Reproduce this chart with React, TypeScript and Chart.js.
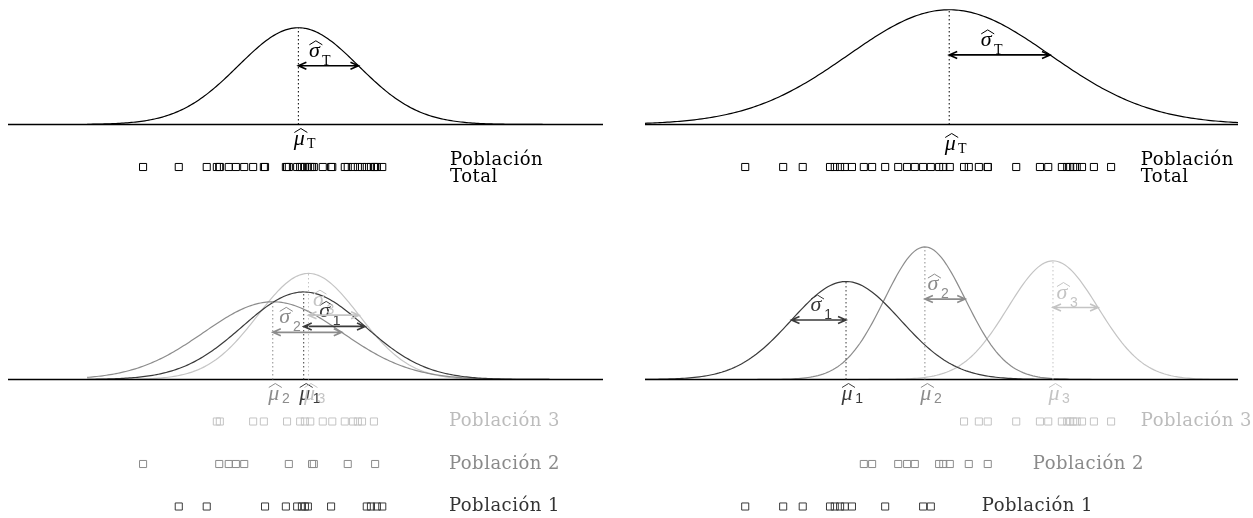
import React, { useEffect, useRef } from "react";
import { Chart, registerables } from "chart.js";

Chart.register(...registerables);

// ---------- Left example: three overlapping populations (measurement units 0–10) ----------
const leftPob1 = [2.87, 3.34, 4.32, 4.67, 4.86, 4.94, 4.99, 5.04, 5.43, 6.03, 6.1, 6.2, 6.29];
const leftPob2 = [2.27, 3.55, 3.71, 3.83, 3.97, 4.72, 5.11, 5.14, 5.71, 6.17];
const leftPob3 = [3.51, 3.56, 4.12, 4.3, 4.69, 4.91, 4.99, 5.08, 5.29, 5.45, 5.66, 5.8, 5.88, 5.95, 6.15];
const leftMu = [4.97, 4.45, 5.05];
const leftSigma = [1.03, 1.16, 0.85];
const leftMuTotal = 4.88;
const leftSigmaTotal = 1.01;

// ---------- Right example: three separated populations ----------
const rightPob1 = [1.69, 2.33, 2.66, 3.12, 3.2, 3.29, 3.37, 3.49, 4.05, 4.69, 4.82];
const rightPob2 = [3.69, 3.83, 4.27, 4.42, 4.55, 4.96, 5.03, 5.14, 5.46, 5.78];
const rightPob3 = [5.38, 5.63, 5.78, 6.26, 6.66, 6.8, 7.03, 7.12, 7.17, 7.22, 7.28, 7.37, 7.57, 7.86];
const rightMu = [3.39, 4.72, 6.88];
const rightSigma = [0.92, 0.68, 0.76];
const rightMuTotal = 5.13;
const rightSigmaTotal = 1.7;

const popNames = ["Población 1", "Población 2", "Población 3"];
const totalName = ["Población", "Total"];
const popSubs = ["1", "2", "3"];
const totalSub = "T";
const xDomain = [0, 10];
const leftCurveDomain = [1.33, 9.1];
const rightCurveDomain = [0, 10];

// ---------- styles ----------
const CURVE = ["#3a3a3a", "#8c8c8c", "#c4c4c4"];
const TEXT = ["#333333", "#8a8a8a", "#bcbcbc"];
const BLACK = "#000000";

type Curve = { mu: number; sigma: number; color: string; sub: string; dir: number; sigmaDx: number };
type Row = { values: number[]; row: number; color: string };
type Label = { lines: string[]; x: number; row: number; color: string };
type Panel = {
  left: number; top: number; width: number; height: number; padL: number; padR: number;
  axisY: number; k: number; rowY1: number; rowStep: number; muDy: number;
  curveDomain: number[]; curves: Curve[]; rows: Row[]; labels: Label[];
};

const panels: Panel[] = [
  {
    left: 0, top: 0, width: 620, height: 195, padL: 8, padR: 17,
    axisY: 124.5, k: 245, rowY1: 167, rowStep: 42.3, muDy: 20,
    curveDomain: leftCurveDomain,
    curves: [{ mu: leftMuTotal, sigma: leftSigmaTotal, color: BLACK, sub: totalSub, dir: 1, sigmaDx: 16 }],
    rows: [{ values: [...leftPob1, ...leftPob2, ...leftPob3], row: 1, color: BLACK }],
    labels: [{ lines: totalName, x: 7.43, row: 1, color: BLACK }],
  },
  {
    left: 620, top: 0, width: 633, height: 195, padL: 25, padR: 15,
    axisY: 124.5, k: 489, rowY1: 167, rowStep: 42.3, muDy: 25,
    curveDomain: rightCurveDomain,
    curves: [{ mu: rightMuTotal, sigma: rightSigmaTotal, color: BLACK, sub: totalSub, dir: 1, sigmaDx: 37 }],
    rows: [{ values: [...rightPob1, ...rightPob2, ...rightPob3], row: 1, color: BLACK }],
    labels: [{ lines: totalName, x: 8.36, row: 1, color: BLACK }],
  },
  {
    left: 0, top: 200, width: 620, height: 318, padL: 8, padR: 17,
    axisY: 379.5, k: 226, rowY1: 506.5, rowStep: 42.5, muDy: 20,
    curveDomain: leftCurveDomain,
    curves: [
      { mu: leftMu[0], sigma: leftSigma[0], color: CURVE[0], sub: popSubs[0], dir: 1, sigmaDx: 21 },
      { mu: leftMu[1], sigma: leftSigma[1], color: CURVE[1], sub: popSubs[1], dir: 1, sigmaDx: 12 },
      { mu: leftMu[2], sigma: leftSigma[2], color: CURVE[2], sub: popSubs[2], dir: 1, sigmaDx: 10 },
    ],
    rows: [
      { values: leftPob1, row: 1, color: CURVE[0] },
      { values: leftPob2, row: 2, color: CURVE[1] },
      { values: leftPob3, row: 3, color: CURVE[2] },
    ],
    labels: [
      { lines: [popNames[0]], x: 7.41, row: 1, color: TEXT[0] },
      { lines: [popNames[1]], x: 7.41, row: 2, color: TEXT[1] },
      { lines: [popNames[2]], x: 7.41, row: 3, color: TEXT[2] },
    ],
  },
  {
    left: 620, top: 200, width: 633, height: 318, padL: 25, padR: 15,
    axisY: 379.5, k: 226, rowY1: 506.5, rowStep: 42.5, muDy: 20,
    curveDomain: rightCurveDomain,
    curves: [
      { mu: rightMu[0], sigma: rightSigma[0], color: CURVE[0], sub: popSubs[0], dir: -1, sigmaDx: -30 },
      { mu: rightMu[1], sigma: rightSigma[1], color: CURVE[1], sub: popSubs[1], dir: 1, sigmaDx: 8 },
      { mu: rightMu[2], sigma: rightSigma[2], color: CURVE[2], sub: popSubs[2], dir: 1, sigmaDx: 9 },
    ],
    rows: [
      { values: rightPob1, row: 1, color: CURVE[0] },
      { values: rightPob2, row: 2, color: CURVE[1] },
      { values: rightPob3, row: 3, color: CURVE[2] },
    ],
    labels: [
      { lines: [popNames[0]], x: 5.68, row: 1, color: TEXT[0] },
      { lines: [popNames[1]], x: 6.54, row: 2, color: TEXT[1] },
      { lines: [popNames[2]], x: 8.36, row: 3, color: TEXT[2] },
    ],
  },
];

function gauss(x: number, mu: number, s: number) {
  return Math.exp(-0.5 * ((x - mu) / s) ** 2) / (s * Math.sqrt(2 * Math.PI));
}

function curvePoints(mu: number, s: number, dom: number[]) {
  const pts: { x: number; y: number }[] = [];
  const n = 240;
  for (let i = 0; i <= n; i++) {
    const x = dom[0] + ((dom[1] - dom[0]) * i) / n;
    pts.push({ x, y: gauss(x, mu, s) });
  }
  return pts;
}

function hatGlyph(ctx: CanvasRenderingContext2D, glyph: string, cx: number, baseY: number, color: string) {
  ctx.font = "italic 22px 'Liberation Serif'";
  ctx.fillStyle = color;
  ctx.textAlign = "center";
  ctx.textBaseline = "alphabetic";
  ctx.fillText(glyph, cx, baseY);
  ctx.strokeStyle = color;
  ctx.lineWidth = 1;
  ctx.setLineDash([]);
  ctx.beginPath();
  ctx.moveTo(cx - 5, baseY - 12);
  ctx.lineTo(cx + 1.5, baseY - 16);
  ctx.lineTo(cx + 8, baseY - 12);
  ctx.stroke();
}

function subText(ctx: CanvasRenderingContext2D, t: string, cx: number, baseY: number, color: string) {
  ctx.font = t === "T" ? "14px 'Liberation Serif'" : "14px 'Liberation Sans'";
  ctx.fillStyle = color;
  ctx.textAlign = "center";
  ctx.textBaseline = "alphabetic";
  ctx.fillText(t, cx, baseY);
}

function arrow(ctx: CanvasRenderingContext2D, x1: number, x2: number, y: number, color: string) {
  const h = 8, w = 3.5;
  const d = Math.sign(x2 - x1);
  ctx.strokeStyle = color;
  ctx.lineWidth = 1.6;
  ctx.setLineDash([]);
  ctx.beginPath();
  ctx.moveTo(x1, y);
  ctx.lineTo(x2, y);
  ctx.moveTo(x1 + d * h, y - w);
  ctx.lineTo(x1, y);
  ctx.lineTo(x1 + d * h, y + w);
  ctx.moveTo(x2 - d * h, y - w);
  ctx.lineTo(x2, y);
  ctx.lineTo(x2 - d * h, y + w);
  ctx.stroke();
}

function PanelChart({ panel }: { panel: Panel }) {
  const ref = useRef<HTMLCanvasElement>(null);
  useEffect(() => {
    const canvas = ref.current;
    if (!canvas) return;
    const H = panel.height;
    const base = panel.axisY - panel.top;
    const yMin = -(H - base) / panel.k;
    const yMax = base / panel.k;
    const r1 = panel.rowY1 - panel.top;
    const rMax = 1 + r1 / panel.rowStep;
    const rMin = rMax - H / panel.rowStep;

    const datasets: any[] = [];
    // baseline (drawn on top)
    datasets.push({
      data: [{ x: xDomain[0], y: 0 }, { x: xDomain[1], y: 0 }],
      yAxisID: "y",
      showLine: true,
      borderColor: BLACK,
      borderWidth: 1.3,
      pointRadius: 0,
      clip: false,
    });
    // sample rows
    panel.rows.forEach((r) => {
      datasets.push({
        data: r.values.map((v) => ({ x: v, y: r.row })),
        yAxisID: "rows",
        showLine: false,
        pointStyle: "rect",
        pointRadius: 5,
        pointBorderWidth: 1,
        pointBorderColor: r.color,
        pointBackgroundColor: "rgba(0,0,0,0)",
        borderColor: r.color,
        backgroundColor: "rgba(0,0,0,0)",
        clip: false,
      });
    });
    // density curves (first listed drawn on top)
    panel.curves.forEach((c) => {
      datasets.push({
        data: curvePoints(c.mu, c.sigma, panel.curveDomain),
        yAxisID: "y",
        showLine: true,
        borderColor: c.color,
        borderWidth: 1.2,
        pointRadius: 0,
        tension: 0,
        clip: false,
      });
    });

    const annot = {
      id: "annot",
      afterDatasetsDraw(chart: any) {
        const ctx: CanvasRenderingContext2D = chart.ctx;
        const xs = chart.scales.x, ys = chart.scales.y, rs = chart.scales.rows;
        ctx.save();
        const y0 = ys.getPixelForValue(0);
        panel.curves.forEach((c) => {
          const px = xs.getPixelForValue(c.mu);
          const peak = gauss(c.mu, c.mu, c.sigma);
          const pPeak = ys.getPixelForValue(peak);
          // dotted mean line
          ctx.strokeStyle = c.color;
          ctx.lineWidth = 1;
          ctx.setLineDash([1.5, 2.5]);
          ctx.beginPath();
          ctx.moveTo(px, y0);
          ctx.lineTo(px, pPeak);
          ctx.stroke();
          ctx.setLineDash([]);
          // sigma arrow
          const ay = ys.getPixelForValue(gauss(c.mu + c.sigma, c.mu, c.sigma));
          const x2 = xs.getPixelForValue(c.mu + c.dir * c.sigma);
          arrow(ctx, px, x2, ay, c.color);
          // sigma label
          const sx = px + c.sigmaDx;
          hatGlyph(ctx, "σ", sx, ay - 9, c.color);
          subText(ctx, c.sub, sx + 12, ay - 1, c.color);
          // mu label
          const mb = y0 + panel.muDy;
          hatGlyph(ctx, "μ", px + 1, mb, c.color);
          subText(ctx, c.sub, px + 13, mb + 3, c.color);
        });
        // population labels
        ctx.font = "18px 'DejaVu Serif'";
        (ctx as any).letterSpacing = "0.5px";
        ctx.textAlign = "left";
        ctx.textBaseline = "middle";
        panel.labels.forEach((l) => {
          const lx = xs.getPixelForValue(l.x);
          const ly = rs.getPixelForValue(l.row);
          ctx.fillStyle = l.color;
          if (l.lines.length === 1) {
            ctx.fillText(l.lines[0], lx, ly);
          } else {
            ctx.fillText(l.lines[0], lx, ly - 7);
            ctx.fillText(l.lines[1], lx, ly + 10);
          }
        });
        (ctx as any).letterSpacing = "0px";
        ctx.restore();
      },
    };

    const chart = new Chart(canvas, {
      type: "scatter",
      data: { datasets },
      options: {
        responsive: false,
        animation: false,
        events: [],
        layout: { autoPadding: false, padding: { left: panel.padL, right: panel.padR, top: 0, bottom: 0 } },
        plugins: { legend: { display: false }, tooltip: { enabled: false } },
        scales: {
          x: { type: "linear", min: xDomain[0], max: xDomain[1], display: false },
          y: { type: "linear", min: yMin, max: yMax, display: false },
          rows: { type: "linear", min: rMin, max: rMax, display: false, position: "right" },
        },
      },
      plugins: [annot],
    } as any);
    return () => chart.destroy();
  }, [panel]);

  return (
    <canvas
      ref={ref}
      width={panel.width}
      height={panel.height}
      style={{ position: "absolute", left: panel.left, top: panel.top, width: panel.width, height: panel.height }}
    />
  );
}

export default function App() {
  return (
    <div style={{ position: "absolute", left: 0, top: 0, width: 1253, height: 518, background: "#ffffff", overflow: "hidden" }}>
      {panels.map((p, i) => (
        <PanelChart key={i} panel={p} />
      ))}
    </div>
  );
}
